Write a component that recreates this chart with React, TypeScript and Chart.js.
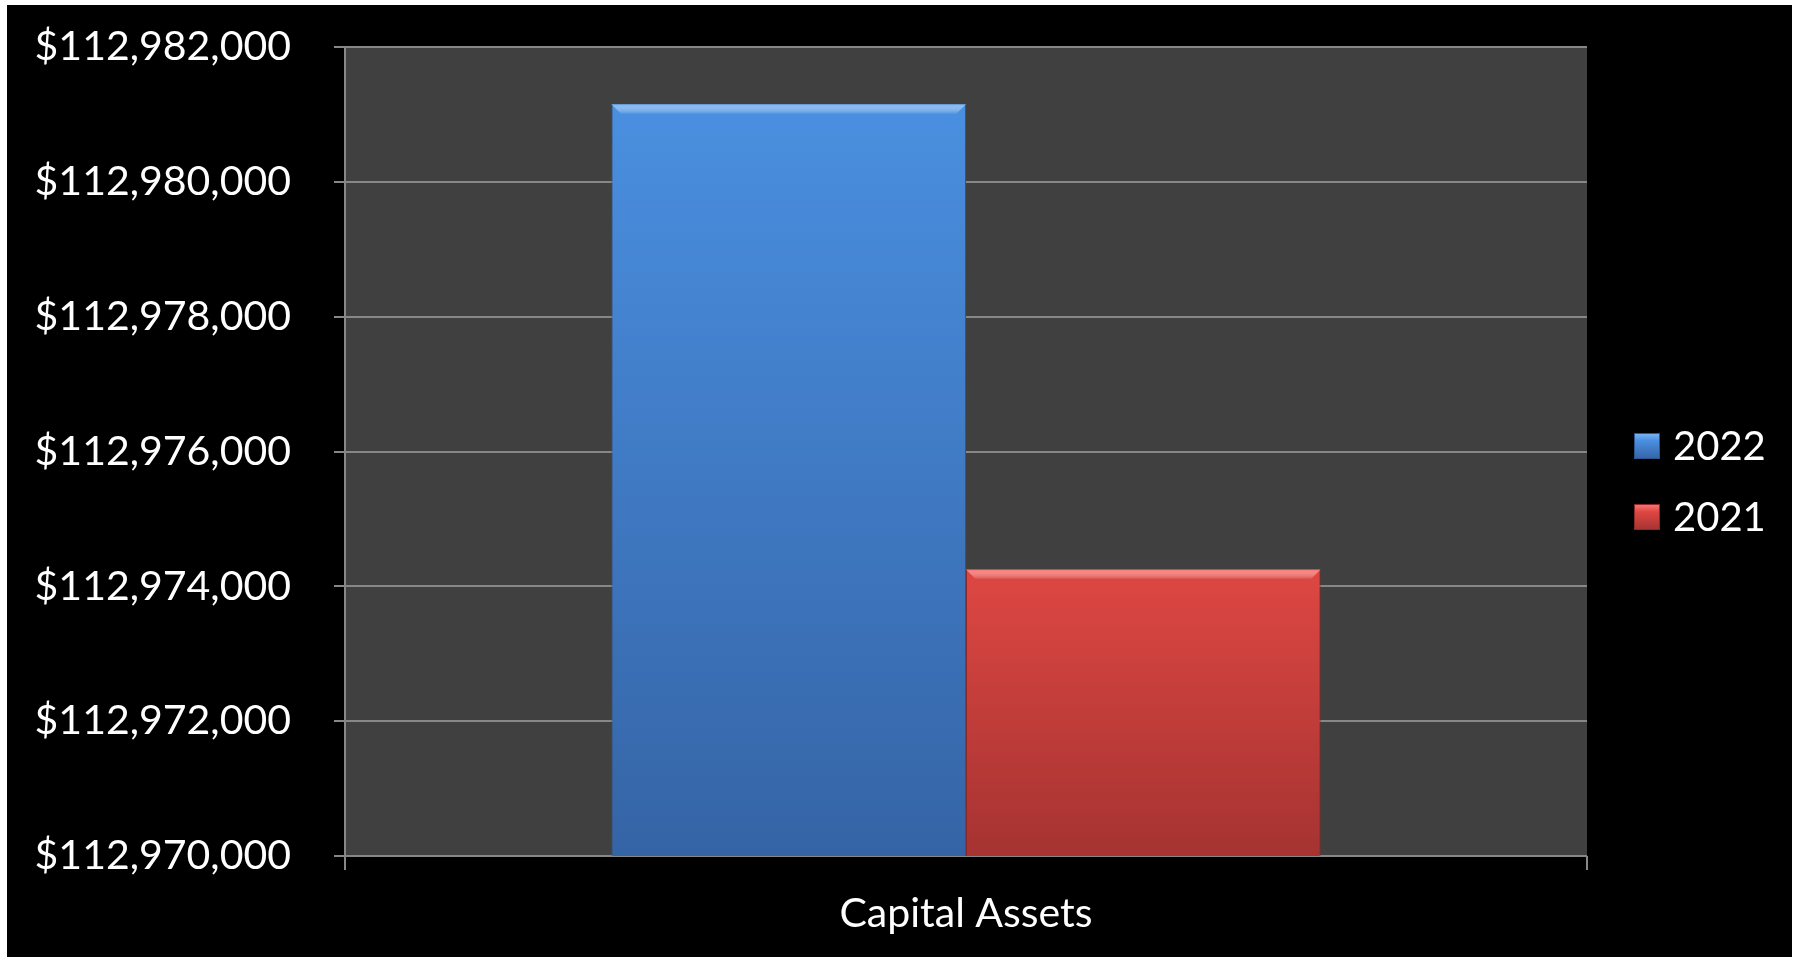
import React, { useEffect, useRef } from "react";
import { Chart, registerables } from "chart.js";

Chart.register(...registerables);

const categories = ["Capital Assets"];
const seriesLabels = ["2022", "2021"];
const values2022 = [112981150];
const values2021 = [112974250];
const yMin = 112970000;
const yMax = 112982000;
const yStep = 2000;

const FONT = 'Lato, "Open Sans", sans-serif';

const palettes = [
  { top: "#4a8fe0", bottom: "#3564a6", hi: "#7db8f5", edge: "#2c5690" },
  { top: "#de4743", bottom: "#a53331", hi: "#ff7a76", edge: "#8a2a28" },
];

function barGradient(ctx: any, i: number) {
  const chart = ctx.chart;
  const area = chart.chartArea;
  const p = palettes[i];
  if (!area || ctx.raw === undefined) return p.top;
  const ys = chart.scales.y;
  const top = ys.getPixelForValue(ctx.raw);
  const bottom = ys.getPixelForValue(yMin);
  if (!isFinite(top) || !isFinite(bottom) || top === bottom) return p.top;
  const g = chart.ctx.createLinearGradient(0, top, 0, bottom);
  g.addColorStop(0, p.top);
  g.addColorStop(1, p.bottom);
  return g;
}

const plotPlugin = {
  id: "plotDecor",
  beforeDatasetsDraw(chart: any) {
    const { ctx, chartArea } = chart;
    const ys = chart.scales.y;
    const left = chartArea.left;
    const right = chartArea.right;
    const top = chartArea.top;
    const bottom = chartArea.bottom;
    ctx.save();
    ctx.fillStyle = "#404040";
    ctx.fillRect(left, top, right - left, bottom - top);
    ctx.strokeStyle = "#878787";
    ctx.lineWidth = 2;
    ys.ticks.forEach((t: any) => {
      const y = Math.round(ys.getPixelForValue(t.value));
      ctx.beginPath();
      ctx.moveTo(left - 11, y);
      ctx.lineTo(right, y);
      ctx.stroke();
    });
    ctx.beginPath();
    ctx.moveTo(left, top);
    ctx.lineTo(left, bottom + 14);
    ctx.moveTo(right, bottom);
    ctx.lineTo(right, bottom + 14);
    ctx.stroke();
    ctx.restore();
  },
  afterDatasetsDraw(chart: any) {
    const { ctx } = chart;
    ctx.save();
    chart.data.datasets.forEach((ds: any, i: number) => {
      const meta = chart.getDatasetMeta(i);
      const p = palettes[i];
      meta.data.forEach((bar: any) => {
        const { x, y, width } = bar.getProps(["x", "y", "width"], true);
        const l = x - width / 2;
        const r = x + width / 2;
        const g = ctx.createLinearGradient(0, y, 0, y + 10);
        g.addColorStop(0, p.hi);
        g.addColorStop(1, "rgba(255,255,255,0)");
        ctx.fillStyle = g;
        ctx.beginPath();
        ctx.moveTo(l, y);
        ctx.lineTo(r, y);
        ctx.lineTo(r - 10, y + 10);
        ctx.lineTo(l + 10, y + 10);
        ctx.closePath();
        ctx.fill();
      });
    });
    ctx.restore();
  },
  afterDraw(chart: any) {
    const { ctx } = chart;
    ctx.save();
    ctx.font = `40px ${FONT}`;
    ctx.textBaseline = "middle";
    ctx.textAlign = "left";
    chart.data.datasets.forEach((ds: any, i: number) => {
      const p = palettes[i];
      const cy = 441 + i * 71;
      const bx = 1627;
      const g = ctx.createLinearGradient(0, cy - 13, 0, cy + 13);
      g.addColorStop(0, p.hi);
      g.addColorStop(0.3, p.top);
      g.addColorStop(1, p.bottom);
      ctx.fillStyle = g;
      ctx.fillRect(bx, cy - 13, 26, 26);
      ctx.strokeStyle = p.edge;
      ctx.lineWidth = 1;
      ctx.strokeRect(bx + 0.5, cy - 12.5, 25, 25);
      ctx.fillStyle = "#ffffff";
      ctx.fillText(ds.label, 1666, cy + 1);
    });
    ctx.restore();
  },
};

export default function App() {
  const ref = useRef<HTMLCanvasElement | null>(null);

  useEffect(() => {
    document.body.style.margin = "5px 9px 0 7px";
    if (!ref.current) return;
    const chart = new Chart(ref.current, {
      type: "bar",
      data: {
        labels: categories,
        datasets: [
          {
            label: seriesLabels[0],
            data: values2022,
            backgroundColor: (c: any) => barGradient(c, 0),
            borderColor: palettes[0].edge,
            borderWidth: 1,
          },
          {
            label: seriesLabels[1],
            data: values2021,
            backgroundColor: (c: any) => barGradient(c, 1),
            borderColor: palettes[1].edge,
            borderWidth: 1,
          },
        ],
      },
      options: {
        responsive: false,
        animation: false,
        layout: { padding: { top: 42, right: 205, bottom: 0, left: 0 } },
        datasets: {
          bar: { barPercentage: 1, categoryPercentage: 0.571 },
        },
        plugins: {
          legend: { display: false },
          tooltip: { enabled: false },
        },
        scales: {
          x: {
            grid: { display: false, drawTicks: false },
            border: { display: false },
            ticks: {
              color: "#ffffff",
              font: { family: FONT, size: 41 },
              padding: 33,
            },
            afterFit: (s: any) => {
              s.height = 101;
            },
          },
          y: {
            min: yMin,
            max: yMax,
            grid: { display: false, drawTicks: true, tickLength: 52 },
            border: { display: false },
            ticks: {
              stepSize: yStep,
              color: "#ffffff",
              font: { family: FONT, size: 41 },
              padding: 2,
              callback: (v: any) => "$" + Number(v).toLocaleString("en-US"),
            },
            afterFit: (s: any) => {
              s.width = 338;
            },
          },
        },
      },
      plugins: [plotPlugin],
    });
    return () => chart.destroy();
  }, []);

  return (
    <div style={{ width: 1785, height: 952, background: "#000" }}>
      <canvas ref={ref} width={1785} height={952} style={{ display: "block" }} />
    </div>
  );
}
